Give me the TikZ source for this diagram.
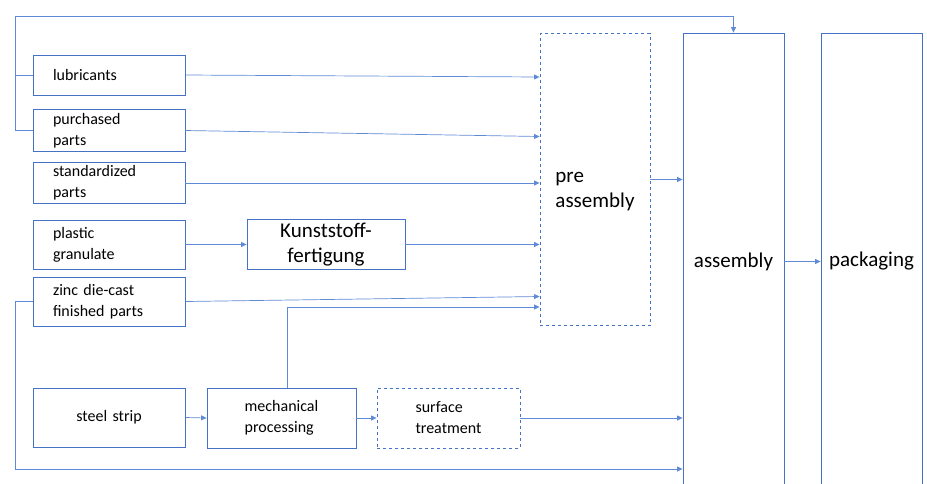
\documentclass[tikz,border=0pt]{standalone}
\usepackage{fontspec}
\setmainfont{Carlito}
\usetikzlibrary{arrows.meta,calc}
\definecolor{boxblue}{HTML}{4472C4}
\definecolor{lineblue}{HTML}{5E8AD6}
\tikzset{
 inbox/.style={draw=boxblue, line width=0.9pt, minimum width=152pt, inner xsep=20pt,
  text width=112pt, align=left, font=\fontsize{16}{21}\selectfont},
 stepbox/.style={draw=boxblue, line width=0.9pt, minimum height=60pt, align=left,
  font=\fontsize{16}{21}\selectfont},
 bigbox/.style={draw=boxblue, line width=0.9pt, align=left, font=\fontsize{21}{25}\selectfont},
 flow/.style={draw=lineblue, line width=0.7pt, -{Triangle[length=5.5pt,width=5pt]}},
 link/.style={draw=lineblue, line width=0.7pt}
}
\begin{document}
\begin{tikzpicture}[x=1pt,y=-1pt]
\useasboundingbox (0,0) rectangle (927,483);
% inputs
\node[inbox, minimum height=40pt] (lub) at (109,75) {lubricants};
\node[inbox, minimum height=39pt] (pur) at (109,130.5) {purchased\\parts};
\node[inbox, minimum height=40pt] (std) at (109,183) {standardized\\parts};
\node[inbox, minimum height=49pt] (pla) at (109,244.5) {plastic\\granulate};
\node[inbox, minimum height=49pt] (zinc) at (109,301.5) {zinc die-cast\\finished parts};
\node[inbox, minimum height=59pt, align=center] (steel) at (109,417.5) {steel strip};
% processes
\node[bigbox, align=center, minimum width=158pt, minimum height=49pt] (kun) at (326,244.5) {Kunststoff-\\fertigung};
\node[stepbox, minimum width=149pt] (mech) at (281.5,418) {mechanical\\processing};
\node[stepbox, dashed, minimum width=143pt] (surf) at (448.5,418) {surface\\treatment};
\node[bigbox, dashed, minimum width=110pt, minimum height=292pt,
  label={[align=left, font=\fontsize{21}{25}\selectfont, yshift=-12pt]center:pre\\assembly}] (pre) at (595,179.5) {};
\node[bigbox, minimum width=101pt, minimum height=457pt] (asm) at (733.5,261.5) {assembly};
\node[bigbox, minimum width=101pt, minimum height=457pt] (pack) at (871.5,261.5) {packaging};
\coordinate (topleft) at (15,16);
\coordinate (botleft) at (15,469);
% connections
\draw[flow] (lub.east) -- ($(lub.east -| pre.west)+(0,2)$);
\draw[flow] (pur.east) -- ($(pur.east -| pre.west)+(0,6)$);
\draw[flow] (std.east) -- (std.east -| pre.west);
\draw[flow] (pla.east) -- (kun.west);
\draw[flow] (kun.east) -- (kun.east -| pre.west);
\draw[flow] (zinc.east) -- ($(zinc.east -| pre.west)+(0,-5)$);
\draw[flow] ([xshift=5.5pt]mech.north) |- (pre.west |- 0,307);
\draw[flow] (pre.east) -- (pre.east -| asm.west);
\draw[flow] (asm.east) -- (pack.west);
\draw[flow] (steel.east) -- (mech.west);
\draw[flow] (mech.east) -- (surf.west);
\draw[flow] (surf.east) -- (surf.east -| asm.west);
\draw[link] (lub.west) -- (lub.west -| topleft);
\draw[flow] (pur.west) -- (pur.west -| topleft) -- (topleft) -| (asm.north);
\draw[flow] (zinc.west) -- (zinc.west -| botleft) -- (botleft) -- (botleft -| asm.west);
\end{tikzpicture}
\end{document}
